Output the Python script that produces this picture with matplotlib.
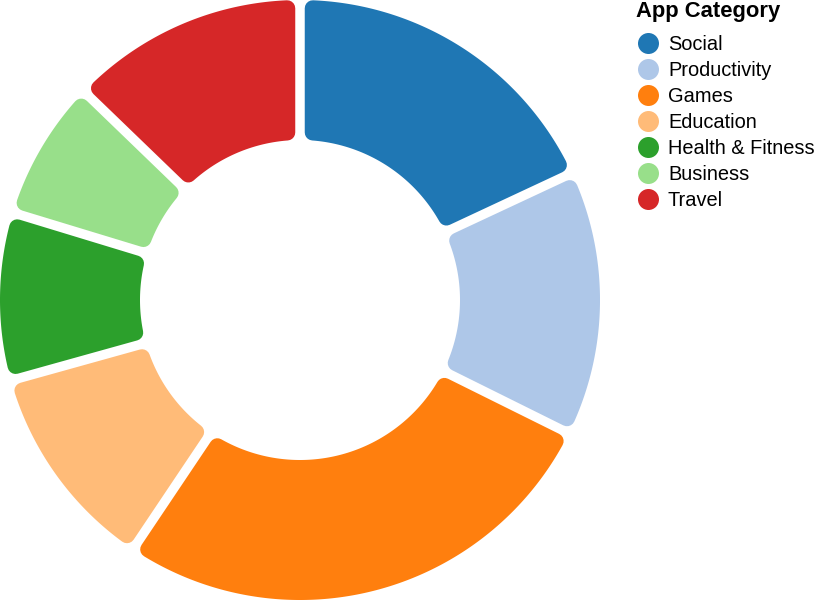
import numpy as np
import matplotlib
matplotlib.use("Agg")
import matplotlib.pyplot as plt
from matplotlib.patches import Polygon

categories = ["Social", "Productivity", "Games", "Education",
              "Health & Fitness", "Business", "Travel"]
values = [24, 19, 36, 15, 12, 10, 17]
colors = ["#1f77b4", "#aec7e8", "#ff7f0e", "#ffbb78",
          "#2ca02c", "#98df8a", "#d62728"]

DPI = 100
OUTER = 300.0
INNER = 160.0
GAP = 9.5        # constant width of the gap between slices, px
CORNER = 8.0     # corner radius, px


def slice_outline(a0, a1):
    # outline inset by CORNER, stroked later with a round join
    e = GAP / 2 + CORNER
    ro = OUTER - CORNER
    ri = INNER + CORNER
    o0, o1 = a0 + np.arcsin(e / ro), a1 - np.arcsin(e / ro)
    i0, i1 = a0 + np.arcsin(e / ri), a1 - np.arcsin(e / ri)
    t_out = np.linspace(o0, o1, 200)
    t_in = np.linspace(i1, i0, 200)
    xs = np.concatenate([ro * np.sin(t_out), ri * np.sin(t_in)])
    ys = np.concatenate([ro * np.cos(t_out), ri * np.cos(t_in)])
    return np.column_stack([xs, ys])


fig = plt.figure(figsize=(816 / DPI, 600 / DPI), dpi=DPI)
ax = fig.add_axes([0, 0, 600 / 816, 1])
ax.set_xlim(-300, 300)
ax.set_ylim(-300, 300)
ax.set_aspect("equal")
ax.axis("off")

total = float(sum(values))
edges = np.concatenate([[0], np.cumsum(values)]) / total * 2 * np.pi
for i, c in enumerate(colors):
    pts = slice_outline(edges[i], edges[i + 1])
    ax.add_patch(Polygon(pts, closed=True, facecolor=c, edgecolor=c,
                         linewidth=2 * CORNER * 72 / DPI, joinstyle="round"))

# legend, drawn in pixel coordinates of the whole figure
lg = fig.add_axes([0, 0, 1, 1])
lg.set_xlim(0, 816)
lg.set_ylim(600, 0)
lg.axis("off")
lg.patch.set_alpha(0)

lg.text(636, 17.5, "App Category", fontfamily="Liberation Sans",
        fontweight="bold", fontsize=22 * 72 / DPI, va="baseline", ha="left")
for i, (name, c) in enumerate(zip(categories, colors)):
    yc = 43 + i * 26
    lg.scatter([648], [yc], s=(21 * 72 / DPI) ** 2, color=c, linewidths=0)
    lg.text(668, yc + 7, name, fontfamily="Liberation Sans",
            fontsize=20 * 72 / DPI, va="baseline", ha="left")

fig.savefig("out.png", dpi=DPI)
